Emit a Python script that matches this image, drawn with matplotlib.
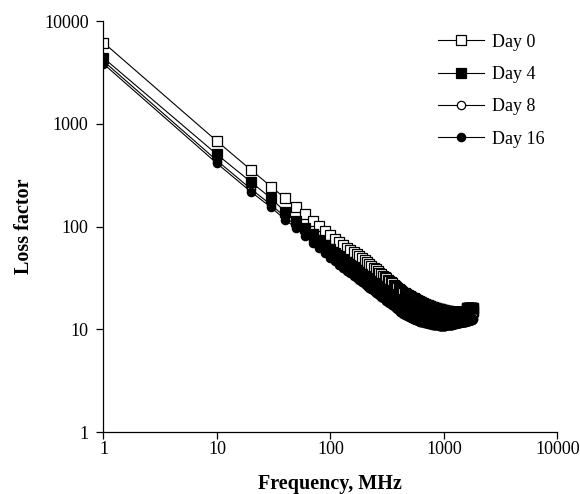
import matplotlib
matplotlib.use("Agg")
import matplotlib.pyplot as plt

plt.rcParams['font.family'] = ['Liberation Serif', 'DejaVu Serif']

# frequency grid: 1 MHz, then 10 to 1800 MHz every 10 MHz
freq = [1] + list(range(10, 1810, 10))

day0 = [6200,
        680, 356, 246, 188, 156, 132, 114, 101, 90, 82,
        76.0, 70.9, 66.5, 62.6, 59.3, 56.3, 53.6, 51.2, 49.1, 47.1,
        45.0, 43.1, 41.4, 39.8, 38.3, 36.9, 35.6, 34.4, 33.3, 32.3,
        31.3, 30.4, 29.6, 28.8, 28.0, 27.3, 26.6, 25.9, 25.3, 24.7,
        24.2, 23.7, 23.2, 22.8, 22.4, 22.1, 21.8, 21.5, 21.2, 20.9,
        20.6, 20.4, 20.2, 20.0, 19.8, 19.6, 19.4, 19.2, 19.0, 18.8,
        18.6, 18.4, 18.3, 18.1, 18.0, 17.8, 17.7, 17.6, 17.4, 17.3,
        17.2, 17.1, 17.0, 16.9, 16.8, 16.7, 16.6, 16.5, 16.4, 16.4,
        16.3, 16.2, 16.2, 16.1, 16.0, 16.0, 15.9, 15.8, 15.8, 15.7,
        15.7, 15.6, 15.6, 15.5, 15.5, 15.4, 15.4, 15.3, 15.3, 15.3,
        15.2, 15.2, 15.2, 15.1, 15.1, 15.1, 15.0, 15.0, 15.0, 15.0,
        14.9, 14.9, 14.9, 14.9, 14.9, 14.9, 14.9, 14.9, 14.9, 14.9,
        14.9, 14.9, 14.9, 14.9, 14.8, 14.8, 14.8, 14.8, 14.8, 14.8,
        14.8, 14.8, 14.8, 14.8, 14.8, 14.8, 14.8, 14.8, 14.8, 14.8,
        14.8, 14.8, 14.8, 14.8, 14.8, 14.8, 14.8, 14.8, 14.8, 14.8,
        14.8, 14.8, 14.8, 14.8, 14.8, 14.9, 14.9, 14.9, 14.9, 14.9,
        14.9, 14.9, 14.9, 15.0, 15.0, 15.0, 15.0, 15.0, 15.0, 15.0,
        15.0, 15.0, 15.1, 15.1, 15.1, 15.1, 15.1, 15.1, 15.2, 15.2]

day4 = [4400,
        505, 272, 189, 139, 114, 97, 84, 74, 66, 60,
        55.3, 51.2, 47.9, 44.9, 42.4, 40.1, 38.0, 36.2, 34.6, 33.1,
        31.8, 30.5, 29.4, 28.3, 27.4, 26.5, 25.7, 24.8, 24.1, 23.5,
        22.6, 22.0, 21.4, 20.9, 20.5, 19.9, 19.5, 19.0, 18.6, 18.2,
        17.6, 17.2, 16.9, 16.6, 16.4, 16.2, 15.9, 15.8, 15.6, 15.5,
        15.2, 15.1, 15.0, 14.9, 14.8, 14.6, 14.5, 14.4, 14.3, 14.2,
        14.0, 14.0, 13.9, 13.9, 13.8, 13.8, 13.7, 13.7, 13.6, 13.6,
        13.5, 13.5, 13.3, 13.3, 13.3, 13.2, 13.2, 13.2, 13.1, 13.1,
        13.1, 13.0, 13.0, 13.0, 13.0, 12.9, 12.9, 12.9, 12.9, 12.9,
        12.7, 12.7, 12.7, 12.7, 12.7, 12.7, 12.7, 12.7, 12.7, 12.7,
        12.7, 12.7, 12.7, 12.9, 12.9, 12.9, 12.9, 12.9, 13.0, 13.0,
        13.0, 13.0, 13.0, 13.0, 13.1, 13.1, 13.1, 13.1, 13.1, 13.2,
        13.2, 13.2, 13.2, 13.3, 13.3, 13.3, 13.3, 13.5, 13.5, 13.5,
        13.5, 13.6, 13.6, 13.6, 13.6, 13.7, 13.7, 13.7, 13.7, 13.8,
        13.8, 13.8, 13.8, 13.8, 13.9, 13.9, 13.9, 13.9, 13.9, 14.0,
        14.0, 14.0, 14.0, 14.0, 14.0, 14.2, 14.2, 14.2, 16.0, 16.1,
        16.1, 16.1, 16.1, 16.1, 16.1, 16.2, 16.2, 16.2, 16.2, 16.2,
        16.2, 16.2, 16.2, 16.2, 16.2, 16.2, 16.2, 16.2, 16.2, 16.2]

day8 = [4100,
        440, 232, 163, 124, 102, 86, 74, 66, 58, 53,
        48.9, 45.3, 42.3, 39.6, 37.4, 35.4, 33.6, 32.0, 30.5, 29.3,
        28.1, 26.9, 26.0, 25.0, 24.2, 23.4, 22.7, 21.9, 21.3, 20.8,
        20.0, 19.4, 18.9, 18.5, 18.1, 17.5, 17.2, 16.8, 16.4, 16.1,
        15.9, 15.6, 15.3, 15.1, 14.9, 14.7, 14.5, 14.4, 14.2, 14.1,
        13.9, 13.8, 13.7, 13.6, 13.5, 13.4, 13.3, 13.2, 13.1, 13.0,
        12.9, 12.9, 12.7, 12.7, 12.6, 12.6, 12.5, 12.5, 12.4, 12.4,
        12.3, 12.3, 12.2, 12.2, 12.2, 12.1, 12.1, 12.1, 12.0, 12.0,
        12.0, 11.9, 11.9, 11.9, 11.9, 11.8, 11.8, 11.8, 11.8, 11.8,
        11.7, 11.7, 11.7, 11.7, 11.7, 11.7, 11.7, 11.7, 11.7, 11.7,
        11.7, 11.7, 11.7, 11.8, 11.8, 11.8, 11.8, 11.8, 11.9, 11.9,
        11.9, 11.9, 11.9, 11.9, 12.0, 12.0, 12.0, 12.0, 12.0, 12.1,
        12.1, 12.1, 12.1, 12.2, 12.2, 12.2, 12.2, 12.3, 12.3, 12.3,
        12.3, 12.4, 12.4, 12.4, 12.4, 12.5, 12.5, 12.5, 12.5, 12.6,
        12.6, 12.6, 12.6, 12.6, 12.7, 12.7, 12.7, 12.7, 12.7, 12.9,
        12.9, 12.9, 12.9, 12.9, 12.9, 13.0, 13.0, 13.0, 13.2, 13.3,
        13.3, 13.3, 13.4, 13.4, 13.4, 13.4, 13.5, 13.5, 13.5, 13.5,
        13.5, 13.5, 13.6, 13.6, 13.6, 13.6, 13.6, 13.6, 13.6, 13.6]

day16 = [3850,
         413, 218, 154, 117, 96, 81, 70, 62, 55, 50,
         46.1, 42.7, 39.9, 37.4, 35.3, 33.4, 31.7, 30.2, 28.8, 27.6,
         26.5, 25.4, 24.5, 23.6, 22.8, 22.1, 21.4, 20.7, 20.1, 19.6,
         19.0, 18.5, 18.0, 17.6, 17.2, 16.7, 16.4, 16.0, 15.6, 15.3,
         14.9, 14.6, 14.3, 14.1, 13.9, 13.7, 13.5, 13.4, 13.2, 13.1,
         12.9, 12.8, 12.7, 12.6, 12.5, 12.4, 12.3, 12.2, 12.1, 12.0,
         11.9, 11.9, 11.8, 11.8, 11.7, 11.7, 11.6, 11.6, 11.5, 11.5,
         11.4, 11.4, 11.3, 11.3, 11.3, 11.2, 11.2, 11.2, 11.1, 11.1,
         11.1, 11.0, 11.0, 11.0, 11.0, 10.9, 10.9, 10.9, 10.9, 10.9,
         10.8, 10.8, 10.8, 10.8, 10.8, 10.8, 10.8, 10.8, 10.8, 10.8,
         10.8, 10.8, 10.8, 10.9, 10.9, 10.9, 10.9, 10.9, 11.0, 11.0,
         11.0, 11.0, 11.0, 11.0, 11.1, 11.1, 11.1, 11.1, 11.1, 11.2,
         11.2, 11.2, 11.2, 11.3, 11.3, 11.3, 11.3, 11.4, 11.4, 11.4,
         11.4, 11.5, 11.5, 11.5, 11.5, 11.6, 11.6, 11.6, 11.6, 11.7,
         11.7, 11.7, 11.7, 11.7, 11.8, 11.8, 11.8, 11.8, 11.8, 11.9,
         11.9, 11.9, 11.9, 11.9, 11.9, 12.0, 12.0, 12.0, 12.0, 12.0,
         12.0, 12.0, 12.1, 12.1, 12.1, 12.1, 12.2, 12.2, 12.2, 12.2,
         12.3, 12.3, 12.3, 12.3, 12.4, 12.4, 12.4, 12.4, 12.5, 12.5]

ticks = [1, 10, 100, 1000, 10000]
tick_labels = ["1", "10", "100", "1000", "10000"]

fig = plt.figure(figsize=(5.8, 4.94), dpi=100)
ax = fig.add_axes([0.1784, 0.1255, 0.7826, 0.8314])

# orden de dibujo: los marcadores rellenos quedan encima
ax.plot(freq, day0, color="black", lw=0.8, marker="s", ms=6.5,
        mfc="white", mec="black", mew=0.9, label="Day 0", zorder=2)
ax.plot(freq, day8, color="black", lw=0.8, marker="o", ms=6,
        mfc="white", mec="black", mew=0.9, label="Day 8", zorder=3)
ax.plot(freq, day4, color="black", lw=0.8, marker="s", ms=6.5,
        mfc="black", mec="black", mew=0.9, label="Day 4", zorder=4)
ax.plot(freq, day16, color="black", lw=0.8, marker="o", ms=6,
        mfc="black", mec="black", mew=0.9, label="Day 16", zorder=5)

ax.set_xscale("log")
ax.set_yscale("log")
ax.set_xlim(1, 10000)
ax.set_ylim(1, 10000)
ax.set_xticks(ticks)
ax.set_xticklabels(tick_labels)
ax.set_yticks(ticks)
ax.set_yticklabels(tick_labels)
ax.minorticks_off()
ax.tick_params(axis="both", direction="out", length=4.7, width=0.9,
               labelsize=13)
ax.tick_params(axis="x", pad=1.5)
ax.tick_params(axis="y", pad=6)

for side in ["top", "right"]:
    ax.spines[side].set_visible(False)
for side in ["left", "bottom"]:
    ax.spines[side].set_linewidth(0.9)

ax.set_xlabel("Frequency, MHz", fontsize=14.5, fontweight="bold", labelpad=12)
ax.set_ylabel("Loss factor", fontsize=14.5, fontweight="bold", labelpad=7)

# leyenda en el orden Day 0, 4, 8, 16
handles, labels = ax.get_legend_handles_labels()
order = [0, 2, 1, 3]
ax.legend([handles[i] for i in order], [labels[i] for i in order],
          loc="upper left", bbox_to_anchor=(0.738, 0.97), frameon=False,
          numpoints=1, fontsize=13, handlelength=2.5, handletextpad=0.45,
          labelspacing=0.85, borderpad=0, borderaxespad=0)

fig.savefig("out.png", dpi=100)
